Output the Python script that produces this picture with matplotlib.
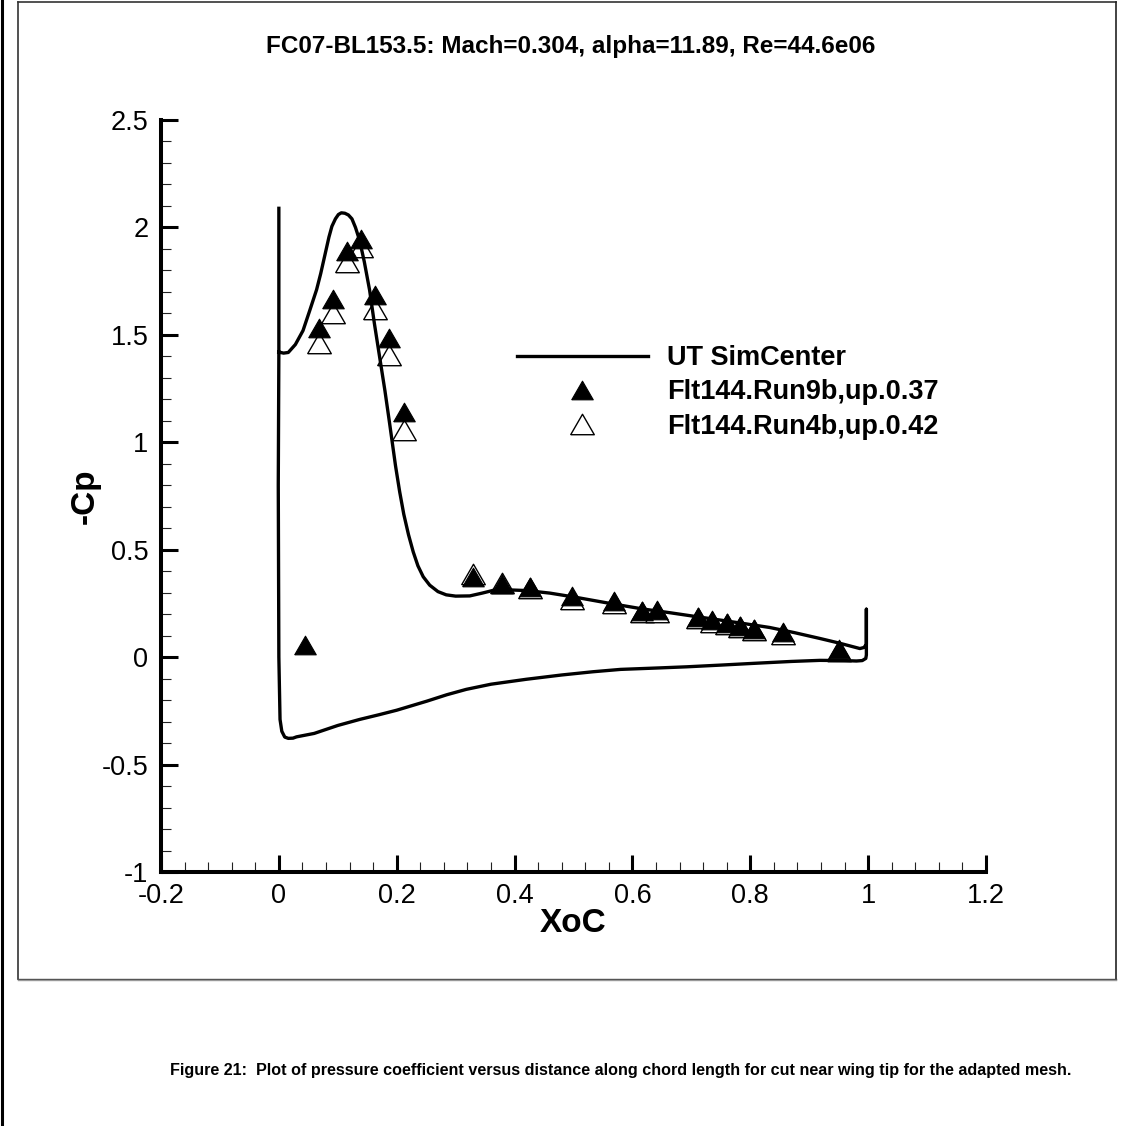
import matplotlib
matplotlib.use("Agg")
import matplotlib.pyplot as plt
from matplotlib.lines import Line2D
from matplotlib.ticker import MultipleLocator, FuncFormatter

plt.rcParams['font.family'] = ['Liberation Sans', 'DejaVu Sans']
plt.rcParams['axes.unicode_minus'] = False

# ---------------- data ----------------
title = "FC07-BL153.5: Mach=0.304, alpha=11.89, Re=44.6e06"
caption = ("Figure 21:  Plot of pressure coefficient versus distance along chord "
           "length for cut near wing tip for the adapted mesh.")
series_names = ["UT SimCenter", "Flt144.Run9b,up.0.37", "Flt144.Run4b,up.0.42"]

# CFD curve (UT SimCenter), traced around the section
cfd_x = [0.000, 0.000, -0.001, 0.000, 0.002, 0.005, 0.010, 0.016, 0.024, 0.030,
         0.060, 0.100, 0.137, 0.170, 0.200, 0.251, 0.285, 0.318, 0.360, 0.420,
         0.480, 0.533, 0.580, 0.647, 0.692, 0.750, 0.805, 0.870, 0.918, 0.960,
         0.980, 0.990, 0.996, 0.997, 0.997, 0.997, 0.993, 0.986,
         0.950, 0.918, 0.875, 0.833, 0.790, 0.748, 0.705, 0.663, 0.618, 0.562,
         0.505, 0.460, 0.420, 0.390, 0.364, 0.345, 0.324, 0.300, 0.284, 0.270,
         0.256, 0.245, 0.236, 0.228, 0.220, 0.212, 0.205, 0.198, 0.188, 0.180,
         0.171, 0.162, 0.154, 0.145, 0.137, 0.130, 0.124, 0.118, 0.112, 0.106,
         0.101, 0.096, 0.090, 0.085, 0.078, 0.071, 0.064, 0.052, 0.041, 0.028,
         0.016, 0.008, 0.000]
cfd_y = [2.089, 1.420, 0.800, 0.000, -0.290, -0.345, -0.372, -0.378, -0.377, -0.371,
         -0.355, -0.318, -0.290, -0.268, -0.247, -0.205, -0.175, -0.150, -0.126, -0.103,
         -0.083, -0.068, -0.057, -0.050, -0.045, -0.037, -0.029, -0.020, -0.015, -0.016,
         -0.018, -0.016, -0.006, 0.010, 0.223, 0.060, 0.045, 0.040,
         0.066, 0.087, 0.114, 0.138, 0.156, 0.173, 0.190, 0.207, 0.224, 0.250,
         0.278, 0.298, 0.310, 0.313, 0.311, 0.298, 0.285, 0.284, 0.290, 0.305,
         0.335, 0.374, 0.425, 0.490, 0.570, 0.665, 0.770, 0.890, 1.087, 1.240,
         1.397, 1.555, 1.708, 1.840, 1.940, 2.000, 2.040, 2.058, 2.066, 2.068,
         2.060, 2.040, 2.005, 1.955, 1.870, 1.785, 1.710, 1.610, 1.520, 1.455,
         1.418, 1.415, 1.420]

# Flight data, run 9b (filled triangles)
run9b_x = [0.045, 0.068, 0.092, 0.115, 0.140, 0.163, 0.187, 0.212, 0.330, 0.378,
           0.426, 0.497, 0.568, 0.617, 0.641, 0.712, 0.735, 0.760, 0.783, 0.807,
           0.855, 0.950]
run9b_y = [0.056, 1.530, 1.667, 1.889, 1.944, 1.687, 1.484, 1.139, 0.375, 0.340,
           0.327, 0.285, 0.262, 0.217, 0.219, 0.188, 0.172, 0.160, 0.146, 0.133,
           0.116, 0.036]

# Flight data, run 4b (open triangles)
run4b_x = [0.068, 0.092, 0.115, 0.140, 0.163, 0.187, 0.212, 0.330, 0.378, 0.426,
           0.497, 0.568, 0.617, 0.641, 0.712, 0.735, 0.760, 0.783, 0.807, 0.855,
           0.950]
run4b_y = [1.464, 1.602, 1.840, 1.910, 1.620, 1.405, 1.056, 0.385, 0.345, 0.322,
           0.272, 0.250, 0.208, 0.208, 0.180, 0.163, 0.152, 0.138, 0.126, 0.110,
           0.030]

x_ticks = [-0.2, 0, 0.2, 0.4, 0.6, 0.8, 1, 1.2]
y_ticks = [-1, -0.5, 0, 0.5, 1, 1.5, 2, 2.5]

# ---------------- figure ----------------
W, H = 1134, 1126
fig = plt.figure(figsize=(W / 100, H / 100), dpi=100)
fig.patch.set_facecolor('white')

# axes placement (pixels: left 161, right 986, top 120, bottom 872)
ax = fig.add_axes([161 / W, 1 - 872 / H, 825 / W, 752 / H])
ax.set_facecolor('none')

tri = [(-1, -0.866), (1, -0.866), (0, 0.866), (-1, -0.866)]

h_open, = ax.plot(run4b_x, run4b_y, linestyle='none', marker=tri, ms=17,
                  mfc='white', mec='black', mew=1.0, zorder=2, label=series_names[2])
h_fill, = ax.plot(run9b_x, run9b_y, linestyle='none', marker=tri, ms=15.5,
                  mfc='black', mec='black', mew=0.8, zorder=3, label=series_names[1])
h_line, = ax.plot(cfd_x, cfd_y, color='black', lw=2.4, zorder=4,
                  solid_joinstyle='round', label=series_names[0])

ax.set_xlim(x_ticks[0], x_ticks[-1])
ax.set_ylim(y_ticks[0], y_ticks[-1])
ax.set_xticks(x_ticks)
ax.set_yticks(y_ticks)
ax.xaxis.set_minor_locator(MultipleLocator(0.04))
ax.yaxis.set_minor_locator(MultipleLocator(0.1))
fmt = FuncFormatter(lambda v, p: ('%g' % round(v, 6)))
ax.xaxis.set_major_formatter(fmt)
ax.yaxis.set_major_formatter(fmt)

for s in ['top', 'right']:
    ax.spines[s].set_visible(False)
for s in ['left', 'bottom']:
    ax.spines[s].set_linewidth(2.9)
    ax.spines[s].set_color('black')

ax.tick_params(which='major', direction='in', length=12.5, width=2.2,
               labelsize=19.5, color='black')
ax.tick_params(which='minor', direction='in', length=7.5, width=0.8, color='#222222')
ax.tick_params(axis='x', which='major', pad=8)
ax.tick_params(axis='y', which='major', pad=9)

ax.set_xlabel("XoC", fontsize=24, fontweight='bold')
ax.xaxis.set_label_coords(0.5, (872 - 923) / 752)
ax.xaxis.label.set_va('center')
ax.set_ylabel("-Cp", fontsize=24, fontweight='bold')
ax.yaxis.set_label_coords((85 - 161) / 825, 0.5)
ax.yaxis.label.set_va('center')

leg = ax.legend(handles=[h_line, h_fill, h_open], loc='upper left',
                bbox_to_anchor=(517 / W, 1 - 345 / H), bbox_transform=fig.transFigure,
                frameon=False, borderpad=0, borderaxespad=0, numpoints=1,
                handlelength=4.83, handletextpad=0.70, labelspacing=0.31,
                prop={'family': ['Liberation Sans', 'DejaVu Sans'], 'weight': 'bold', 'size': 19.5})

fig.text(571 / W, 1 - 46 / H, title, ha='center', va='center',
         fontsize=17.5, fontweight='bold')
fig.text(621 / W, 1 - 1070 / H, caption, ha='center', va='center',
         fontsize=11.6, fontweight='bold')

# frame around plot region and page border
def fl(x0, y0, x1, y1, **kw):
    fig.add_artist(Line2D([x0 / W, x1 / W], [1 - y0 / H, 1 - y1 / H],
                          transform=fig.transFigure, **kw))

fl(18, 2, 1116, 2, color='#333333', lw=1.2)
fl(18, 2, 18, 979, color='#333333', lw=1.2)
fl(1116, 2, 1116, 979, color='#222222', lw=1.2)
fl(18, 978.5, 1116, 978.5, color='#444444', lw=1.0)
fl(18, 980, 1116, 980, color='#999999', lw=1.0)
fl(1.5, 0, 1.5, H, color='black', lw=2.2)

fig.savefig("out.png", dpi=100, facecolor='white')
